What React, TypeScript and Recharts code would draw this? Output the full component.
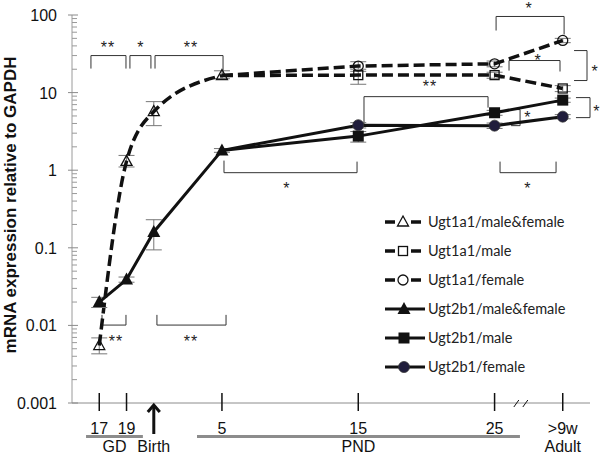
import React from 'react';
import {
  LineChart,
  Line,
  XAxis,
  YAxis,
  ErrorBar,
  ReferenceLine,
  ReferenceDot,
  Legend,
  Label,
} from 'recharts';

// x positions: GD17 = -4, GD19 = -2, birth = 0, PND 5/15/25, adult drawn at 30
const xVals = [-4, -2, 0, 5, 15, 25, 30];

const ugt1a1Both = [0.0055, 1.3, 5.7, 16.6, null, null, null];
const ugt1a1Male = [null, null, null, 16.6, 16.8, 16.8, 11.3];
const ugt1a1Female = [null, null, null, 16.6, 22, 23.5, 47];
const ugt2b1Both = [0.02, 0.039, 0.16, 1.8, null, null, null];
const ugt2b1Male = [null, null, null, 1.8, 2.75, 5.5, 8.0];
const ugt2b1Female = [null, null, null, 1.8, 3.8, 3.75, 4.9];

// [below, above]
const ugt1a1BothErr = [[0.0012, 0.0014], [0.2, 0.25], [1.95, 1.95], [1.5, 2.5], null, null, null];
const ugt1a1MaleErr = [null, null, null, null, [4, 2], [1.5, 1.5], [1, 1]];
const ugt1a1FemaleErr = [null, null, null, null, [2, 3], [2, 2], [3, 3]];
const ugt2b1BothErr = [[0.003, 0.003], [0.003, 0.003], [0.066, 0.07], [0.1, 0.1], null, null, null];
const ugt2b1MaleErr = [null, null, null, null, [0.45, 0.4], [0.4, 0.4], [0.5, 0.5]];
const ugt2b1FemaleErr = [null, null, null, null, [0.3, 0.3], [0.3, 0.3], [0.3, 0.3]];

const xTickVals = [-4, -2, 0, 5, 15, 25, 30];
const xTickLabels = ['17', '19', 'Birth', '5', '15', '25', '>9w'];
const breakAt = 27;

const yMajor = [0.001, 0.01, 0.1, 1, 10, 100];
const yMajorLabels = ['0.001', '0.01', '0.1', '1', '10', '100'];
const yMinor = [0.001, 0.01, 0.1, 1, 10].flatMap((d) => [2, 3, 4, 5, 6, 7, 8, 9].map((m) => +(d * m).toPrecision(3)));

// significance brackets, polylines in data coordinates
const brackets: [number, number][][] = [
  [[-4.61, 20.4], [-4.61, 30], [-2.04, 30], [-2.04, 20.4]],
  [[-1.75, 20.4], [-1.75, 30], [-0.21, 30], [-0.21, 20.4]],
  [[0.09, 20.4], [0.09, 30], [5.08, 30], [5.08, 16.1]],
  [[5.15, 1.33], [5.15, 0.929], [14.91, 0.929], [14.91, 1.29]],
  [[15.42, 3.75], [15.42, 8.87], [24.52, 8.87], [24.52, 6.4]],
  [[25.11, 63.1], [25.11, 95.7], [30.1, 95.7], [30.1, 56]],
  [[26.06, 19.2], [26.06, 25.9], [29.8, 25.9], [29.8, 18.7]],
  [[25.4, 1.29], [25.4, 0.929], [29.51, 0.929], [29.51, 1.29]],
  [[-3.8, 0.01366], [-3.8, 0.0101], [-2.04, 0.0101], [-2.04, 0.01366]],
  [[0.23, 0.01366], [0.23, 0.0101], [5.3, 0.0101], [5.3, 0.01366]],
  [[26.21, 6.04], [26.87, 6.04], [26.87, 3.75], [26.21, 3.75]],
  [[30.83, 34.8], [31.78, 34.8], [31.78, 14.3], [30.83, 14.3]],
  [[30.97, 8.62], [32.0, 8.62], [32.0, 4.76], [30.97, 4.76]],
];
const stars: [string, number, number][] = [
  ['**', -3.36, 42.9], ['*', -0.94, 42.9], ['**', 2.73, 42.9],
  ['*', 9.77, 0.65], ['**', 20.26, 13.1], ['*', 27.53, 136],
  ['*', 28.19, 29.1], ['*', 27.45, 0.65], ['**', -2.77, 0.0069],
  ['**', 2.73, 0.0069], ['*', 27.45, 5.36], ['*', 32.37, 21.0], ['*', 32.51, 6.4],
];

const groups = [
  { label: 'GD', from: -4.97, to: -0.8 },
  { label: 'PND', from: 3.17, to: 26.86 },
];

const rows = xVals.map((x, i) => ({
  x,
  a1Both: ugt1a1Both[i], a1BothErr: ugt1a1BothErr[i],
  a1Male: ugt1a1Male[i], a1MaleErr: ugt1a1MaleErr[i],
  a1Female: ugt1a1Female[i], a1FemaleErr: ugt1a1FemaleErr[i],
  b1Both: ugt2b1Both[i], b1BothErr: ugt2b1BothErr[i],
  b1Male: ugt2b1Male[i], b1MaleErr: ugt2b1MaleErr[i],
  b1Female: ugt2b1Female[i], b1FemaleErr: ugt2b1FemaleErr[i],
}));

type Kind = 'triOpen' | 'sqOpen' | 'circOpen' | 'tri' | 'sq' | 'circ';

const series: { key: string; name: string; dashed: boolean; kind: Kind; split: boolean }[] = [
  { key: 'a1Both', name: 'Ugt1a1/male&female', dashed: true, kind: 'triOpen', split: false },
  { key: 'a1Male', name: 'Ugt1a1/male', dashed: true, kind: 'sqOpen', split: true },
  { key: 'a1Female', name: 'Ugt1a1/female', dashed: true, kind: 'circOpen', split: true },
  { key: 'b1Both', name: 'Ugt2b1/male&female', dashed: false, kind: 'tri', split: false },
  { key: 'b1Male', name: 'Ugt2b1/male', dashed: false, kind: 'sq', split: true },
  { key: 'b1Female', name: 'Ugt2b1/female', dashed: false, kind: 'circ', split: true },
];

const INK = '#111';

function Marker({ kind, cx, cy }: { kind: Kind; cx: number; cy: number }) {
  switch (kind) {
    case 'triOpen':
      return <path d={`M${cx},${cy - 6} L${cx + 5.5},${cy + 4} L${cx - 5.5},${cy + 4} Z`} fill="none" stroke={INK} strokeWidth={1.3} />;
    case 'sqOpen':
      return <rect x={cx - 4.5} y={cy - 4.5} width={9} height={9} fill="none" stroke={INK} strokeWidth={1.3} />;
    case 'circOpen':
      return <circle cx={cx} cy={cy} r={5} fill="none" stroke={INK} strokeWidth={1.3} />;
    case 'tri':
      return <path d={`M${cx},${cy - 7} L${cx + 6.5},${cy + 5} L${cx - 6.5},${cy + 5} Z`} fill={INK} />;
    case 'sq':
      return <rect x={cx - 5.5} y={cy - 5.5} width={11} height={11} fill={INK} />;
    default:
      return <circle cx={cx} cy={cy} r={5.5} fill="#201d3c" stroke="#333" strokeWidth={0.8} />;
  }
}

const makeDot = (kind: Kind, key: string, split: boolean) => (props: any) => {
  const { cx, cy, payload, index } = props;
  if (cx == null || cy == null || payload?.[key] == null || (split && payload.x === 5)) {
    return <g key={`${key}-${index}`} />;
  }
  return <Marker key={`${key}-${index}`} kind={kind} cx={cx} cy={cy} />;
};

function XTick({ x, y, payload }: any) {
  const v = payload.value;
  if (v === breakAt) {
    return (
      <g stroke={INK} strokeWidth={1}>
        <line x1={x - 8} y1={y + 4} x2={x - 3} y2={y - 3} />
        <line x1={x + 1} y1={y + 4} x2={x + 6} y2={y - 3} />
      </g>
    );
  }
  const label = xTickLabels[xTickVals.indexOf(v)];
  if (v === 0) {
    return (
      <g>
        <path d={`M${x},${y + 31} L${x},${y + 2}`} stroke={INK} strokeWidth={3} />
        <path d={`M${x - 6},${y + 9} L${x},${y + 2} L${x + 6},${y + 9}`} stroke={INK} strokeWidth={3} fill="none" />
        <text x={x} y={y + 49} textAnchor="middle" fontSize={16} fill={INK}>{label}</text>
      </g>
    );
  }
  return (
    <g>
      <line x1={x} y1={y - 10} x2={x} y2={y + 8} stroke={INK} strokeWidth={1.5} />
      <text x={x} y={y + 31} textAnchor="middle" fontSize={16} fill={INK}>{label}</text>
      {v === 30 && (
        <text x={x} y={y + 49} textAnchor="middle" fontSize={16} fill={INK}>Adult</text>
      )}
    </g>
  );
}

function YTick({ x, y, payload }: any) {
  const i = yMajor.findIndex((m) => Math.abs(m - payload.value) / m < 1e-6);
  if (i < 0) {
    return <line x1={x} y1={y} x2={x + 5} y2={y} stroke="#9a9a9a" strokeWidth={1} />;
  }
  return (
    <g>
      <line x1={x - 4} y1={y} x2={x + 6} y2={y} stroke="#8a8a8a" strokeWidth={1} />
      <text x={x - 15} y={y + 6} textAnchor="end" fontSize={16} fill={INK}>{yMajorLabels[i]}</text>
    </g>
  );
}

function YTitle(props: any) {
  const vb = props.viewBox ?? { x: 0, y: 15, width: 72, height: 388 };
  const cx = vb.x + 16;
  const cy = vb.y + vb.height / 2 - 4;
  return (
    <text x={cx} y={cy} transform={`rotate(-90 ${cx} ${cy})`} textAnchor="middle" fontSize={17} fontWeight="bold" fill={INK}>
      mRNA expression relative to GAPDH
    </text>
  );
}

function LegendSample({ dashed, kind }: { dashed: boolean; kind: Kind }) {
  return (
    <svg width={44} height={16} style={{ display: 'block' }}>
      {dashed ? (
        <g stroke={INK} strokeWidth={3.5}>
          <line x1={2} y1={8} x2={12} y2={8} />
          <line x1={28} y1={8} x2={38} y2={8} />
        </g>
      ) : (
        <line x1={2} y1={8} x2={42} y2={8} stroke={INK} strokeWidth={3} />
      )}
      <Marker kind={kind} cx={dashed ? 20 : 21} cy={8} />
    </svg>
  );
}

const renderLegend = () => (
  <div style={{ fontFamily: 'Lato, "Open Sans", sans-serif', fontSize: 14.5, color: '#222' }}>
    {series.map((s) => (
      <div key={s.key} style={{ display: 'flex', alignItems: 'center', height: 29 }}>
        <LegendSample dashed={s.dashed} kind={s.kind} />
        <span style={{ marginLeft: 1 }}>{s.name}</span>
      </div>
    ))}
  </div>
);

export default function App() {
  return (
    <div
      style={{
        position: 'absolute',
        left: 0,
        top: 0,
        width: 600,
        height: 456,
        background: '#fff',
        fontFamily: '"Liberation Sans", Arial, sans-serif',
      }}
    >
      <LineChart width={600} height={456} data={rows} margin={{ top: 15, right: 10, bottom: 0, left: 0 }}>
        <XAxis
          dataKey="x"
          type="number"
          domain={[-6, 32]}
          allowDataOverflow
          ticks={[...xTickVals, breakAt]}
          interval={0}
          tick={<XTick />}
          tickSize={0}
          tickMargin={0}
          tickLine={false}
          axisLine={{ stroke: '#8c8c8c' }}
          height={53}
        />
        <YAxis
          type="number"
          scale="log"
          domain={[0.001, 100]}
          allowDataOverflow
          ticks={[...yMajor, ...yMinor]}
          interval={0}
          tick={<YTick />}
          tickSize={0}
          tickMargin={0}
          tickLine={false}
          axisLine={{ stroke: '#9a9a9a' }}
          width={72}
        >
          <Label content={YTitle} />
        </YAxis>

        {groups.map((g) => (
          <ReferenceLine
            key={g.label}
            segment={[{ x: g.from, y: 0.00037 }, { x: g.to, y: 0.00037 }]}
            ifOverflow="visible"
            stroke="#8c8c8c"
            strokeWidth={3}
            label={{ value: g.label, position: 'bottom', offset: 4, fill: INK, fontSize: 16 }}
          />
        ))}

        {brackets.flatMap((pts, b) =>
          pts.slice(1).map((p, i) => (
            <ReferenceLine
              key={`br${b}-${i}`}
              segment={[{ x: pts[i][0], y: pts[i][1] }, { x: p[0], y: p[1] }]}
              ifOverflow="visible"
              stroke="#333"
              strokeWidth={1}
            />
          )),
        )}
        {stars.map(([txt, x, y], i) => (
          <ReferenceDot
            key={`st${i}`}
            x={x}
            y={y}
            r={1}
            ifOverflow="visible"
            shape={(p: any) => (
              <text x={p.cx} y={p.cy + 9} textAnchor="middle" fontSize={16} fill="#222" letterSpacing={1}>
                {txt}
              </text>
            )}
          />
        ))}

        {series.map((s) => (
          <Line
            key={s.key}
            dataKey={s.key}
            name={s.name}
            type={s.key === 'a1Both' ? 'monotone' : 'linear'}
            stroke={INK}
            strokeWidth={s.dashed ? 3.5 : 3}
            strokeDasharray={s.dashed ? '11 5' : undefined}
            dot={makeDot(s.kind, s.key, s.split)}
            activeDot={false}
            isAnimationActive={false}
          >
            <ErrorBar dataKey={`${s.key}Err`} width={8} stroke="#777" strokeWidth={1} />
          </Line>
        ))}

        <Legend
          layout="vertical"
          align="center"
          verticalAlign="middle"
          wrapperStyle={{ left: 383, top: 207, width: 215 }}
          content={renderLegend}
        />
      </LineChart>
    </div>
  );
}
